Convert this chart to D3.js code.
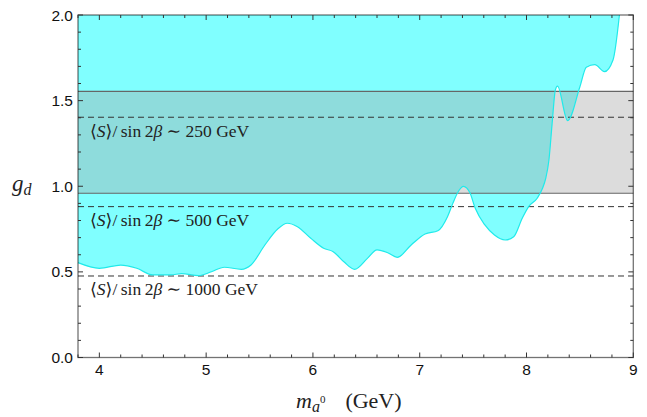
<!DOCTYPE html>
<html>
<head>
<meta charset="utf-8">
<title>g_d vs m_a0</title>
<style>
body {
  margin: 0;
  padding: 0;
  background: #fff;
}
svg text {
  font-family: "Liberation Sans", Arial, sans-serif;
}
.serif {
  font-family: "Liberation Serif", "DejaVu Serif", serif;
}
</style>
<script src="https://d3js.org/d3.v7.min.js"></script>
</head>
<body>
<svg id="chart" width="647" height="417"></svg>
<script>
// boundary of the excluded (cyan) region
const boundaryM = [3.8, 4.0, 4.2, 4.35, 4.5, 4.67, 4.77, 4.93, 5.05, 5.17, 5.33, 5.42, 5.55, 5.67,
  5.76, 5.855, 5.98, 6.1, 6.19, 6.29, 6.39, 6.51, 6.6, 6.7, 6.79, 6.92, 7.05, 7.17, 7.26, 7.31,
  7.36, 7.41, 7.47, 7.52, 7.61, 7.7, 7.8, 7.88, 7.96, 8.02, 8.1, 8.15, 8.18, 8.21, 8.24, 8.27,
  8.29, 8.385, 8.5, 8.56, 8.64, 8.73, 8.81, 8.87];
const boundaryG = [0.554, 0.521, 0.54, 0.521, 0.482, 0.482, 0.49, 0.478, 0.501, 0.527, 0.515, 0.54, 0.657, 0.75,
  0.784, 0.764, 0.696, 0.638, 0.618, 0.559, 0.515, 0.579, 0.628, 0.612, 0.585, 0.657, 0.721, 0.74, 0.822, 0.9,
  0.968, 0.999, 0.962, 0.871, 0.774, 0.715, 0.686, 0.705, 0.813, 0.881, 0.93, 0.988, 1.046, 1.153, 1.367, 1.562,
  1.585, 1.383, 1.581, 1.695, 1.71, 1.669, 1.737, 2.0];

// gray band
const bandLow = 0.959;
const bandHigh = 1.554;

// dashed reference lines and their labels
const refValues = [1.403, 0.881, 0.476];
const refLabels = ["250", "500", "1000"];

const xTicks = [4, 5, 6, 7, 8, 9];
const yTicks = [0.0, 0.5, 1.0, 1.5, 2.0];

const svg = d3.select("#chart");
const pLeft = 78, pRight = 633.3, pTop = 15, pBottom = 357.5;

const x = d3.scaleLinear().domain([3.8, 9]).range([pLeft, pRight]);
const y = d3.scaleLinear().domain([0, 2]).range([pBottom, pTop]);

const pts = boundaryM.map((m, i) => [m, boundaryG[i]]);

// cyan region above the boundary
const area = d3.area()
  .x(d => x(d[0]))
  .y0(y(2))
  .y1(d => y(d[1]))
  .curve(d3.curveMonotoneX);

svg.append("path")
  .datum(pts)
  .attr("d", area)
  .attr("fill", "#80ffff");

// gray band
svg.append("rect")
  .attr("x", pLeft)
  .attr("width", pRight - pLeft)
  .attr("y", y(bandHigh))
  .attr("height", y(bandLow) - y(bandHigh))
  .attr("fill", "rgb(164,164,164)")
  .attr("fill-opacity", 0.39);

svg.selectAll("line.band")
  .data([bandLow, bandHigh])
  .enter().append("line")
  .attr("class", "band")
  .attr("x1", pLeft).attr("x2", pRight)
  .attr("y1", d => y(d)).attr("y2", d => y(d))
  .attr("stroke", "#666")
  .attr("stroke-width", 1.2);

svg.selectAll("line.ref")
  .data(refValues)
  .enter().append("line")
  .attr("class", "ref")
  .attr("x1", pLeft).attr("x2", pRight)
  .attr("y1", d => y(d)).attr("y2", d => y(d))
  .attr("stroke", "#333")
  .attr("stroke-width", 1)
  .attr("stroke-dasharray", "6,4");

// boundary edge
const line = d3.line()
  .x(d => x(d[0]))
  .y(d => y(d[1]))
  .curve(d3.curveMonotoneX);

svg.append("path")
  .datum(pts)
  .attr("d", line)
  .attr("fill", "none")
  .attr("stroke", "#20eaea")
  .attr("stroke-width", 1.2);

// labels of the dashed lines
refValues.forEach((v, i) => {
  const t = svg.append("text")
    .attr("class", "serif")
    .attr("x", 90)
    .attr("y", y(v) + 19.5)
    .attr("font-size", 17.5)
    .attr("fill", "#222");
  t.append("tspan").text("\u27E8");
  t.append("tspan").attr("font-style", "italic").text("S");
  t.append("tspan").text("\u27E9/\u2009sin\u20092");
  t.append("tspan").attr("font-style", "italic").text("\u03B2");
  t.append("tspan").text(" \u223C " + refLabels[i] + " GeV");
});

// frame with inward ticks
const frame = svg.append("g");
frame.append("rect")
  .attr("x", pLeft).attr("y", pTop)
  .attr("width", pRight - pLeft).attr("height", pBottom - pTop)
  .attr("fill", "none")
  .attr("stroke", "#000")
  .attr("stroke-opacity", 0.55)
  .attr("stroke-width", 1.3);

const xMinor = d3.range(3.8, 9.0001, 0.2).map(v => +v.toFixed(1)).filter(v => !xTicks.includes(v));
const yMinor = d3.range(0, 2.0001, 0.1).map(v => +v.toFixed(1)).filter(v => !yTicks.includes(v));

[{ vals: xTicks, len: 5 }, { vals: xMinor, len: 3 }].forEach(s => {
  s.vals.forEach(v => {
    frame.append("line")
      .attr("x1", x(v)).attr("x2", x(v))
      .attr("y1", pBottom).attr("y2", pBottom - s.len)
      .attr("stroke", "#333").attr("stroke-width", 1);
    frame.append("line")
      .attr("x1", x(v)).attr("x2", x(v))
      .attr("y1", pTop).attr("y2", pTop + s.len)
      .attr("stroke", "#333").attr("stroke-width", 1);
  });
});
[{ vals: yTicks, len: 5 }, { vals: yMinor, len: 3 }].forEach(s => {
  s.vals.forEach(v => {
    frame.append("line")
      .attr("x1", pLeft).attr("x2", pLeft + s.len)
      .attr("y1", y(v)).attr("y2", y(v))
      .attr("stroke", "#333").attr("stroke-width", 1);
    frame.append("line")
      .attr("x1", pRight).attr("x2", pRight - s.len)
      .attr("y1", y(v)).attr("y2", y(v))
      .attr("stroke", "#333").attr("stroke-width", 1);
  });
});

// tick labels
svg.selectAll("text.xt")
  .data(xTicks)
  .enter().append("text")
  .attr("class", "xt")
  .attr("x", d => x(d))
  .attr("y", 375)
  .attr("text-anchor", "middle")
  .attr("font-size", 15.5)
  .attr("fill", "#111")
  .text(d => d);

svg.selectAll("text.yt")
  .data(yTicks)
  .enter().append("text")
  .attr("class", "yt")
  .attr("x", 73)
  .attr("y", d => y(d) + 5.5)
  .attr("text-anchor", "end")
  .attr("font-size", 15.5)
  .attr("fill", "#111")
  .text(d => d.toFixed(1));

// axis titles
const yl = svg.append("text")
  .attr("class", "serif")
  .attr("x", 12)
  .attr("y", 191)
  .attr("font-size", 23)
  .attr("fill", "#222");
yl.append("tspan").attr("font-style", "italic").text("g");
yl.append("tspan").attr("font-style", "italic").attr("font-size", 16).attr("dy", 4).text("d");

const xl = svg.append("text")
  .attr("class", "serif")
  .attr("x", 296)
  .attr("y", 408)
  .attr("font-size", 22)
  .attr("fill", "#222");
xl.append("tspan").attr("font-style", "italic").text("m");
xl.append("tspan").attr("font-style", "italic").attr("font-size", 16).attr("dy", 4).text("a");
xl.append("tspan").attr("font-size", 11).attr("dy", -9).text("0");
xl.append("tspan").attr("dy", 5).attr("dx", 20).text("(GeV)");
</script>
</body>
</html>
